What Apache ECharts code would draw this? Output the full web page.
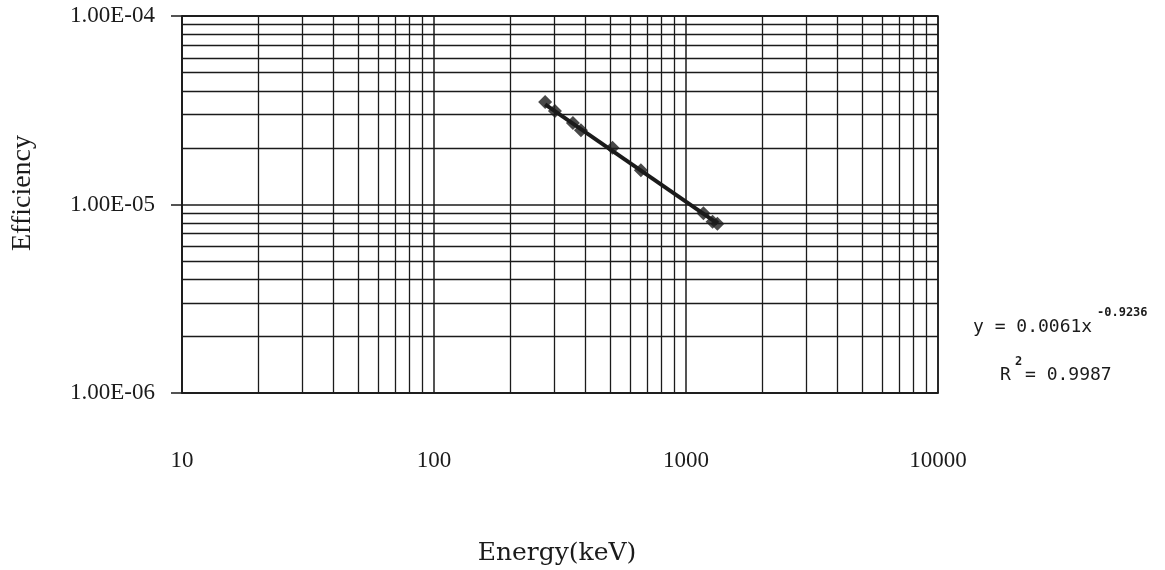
<!DOCTYPE html>
<html>
<head>
<meta charset="utf-8">
<title>Efficiency vs Energy</title>
<script src="https://cdn.jsdelivr.net/npm/echarts@6/dist/echarts.min.js"></script>
<style>
  html, body { margin: 0; padding: 0; background: #ffffff; }
  #chart { width: 1165px; height: 570px; }
</style>
</head>
<body>
<div id="chart"></div>
<script>
// Measured detector efficiency at each gamma line (keV)
const energy = [276, 302, 356, 383, 511, 662, 1173, 1275, 1332];
const efficiency = [3.50e-5, 3.13e-5, 2.71e-5, 2.48e-5, 2.00e-5, 1.52e-5, 9.0e-6, 8.1e-6, 7.9e-6];

// Power-law fit y = a * x^b, as printed beside the chart
const fitA = 0.0061;
const fitB = -0.9236;
const fitR2 = '0.9987';

// Axis ranges and tick labels
const xRange = [10, 10000];
const yRange = [1e-6, 1e-4];
const xTickLabels = ['10', '100', '1000', '10000'];
const yTickLabels = ['1.00E-06', '1.00E-05', '1.00E-04'];

// Minor grid lines at 2..9 of every decade
const minorSteps = [2, 3, 4, 5, 6, 7, 8, 9];
const xDecades = [10, 100, 1000];
const yDecades = [1e-6, 1e-5];

const minorGrid = [];
xDecades.forEach(d => minorSteps.forEach(m => {
  minorGrid.push([{ coord: [d * m, yRange[0]] }, { coord: [d * m, yRange[1]] }]);
}));
yDecades.forEach(d => minorSteps.forEach(m => {
  minorGrid.push([{ coord: [xRange[0], d * m] }, { coord: [xRange[1], d * m] }]);
}));

// Fit line spans the measured energy range
const eMin = Math.min(...energy);
const eMax = Math.max(...energy);
const fitLine = [eMin, eMax].map(e => [e, fitA * Math.pow(e, fitB)]);

const ink = '#1b1b1b';
const serif = '"Liberation Serif", "DejaVu Serif", serif';
const wideSerif = '"DejaVu Serif", "Liberation Serif", serif';
const mono = '"DejaVu Sans Mono", "Liberation Mono", monospace';

function logIndex(v) {
  return Math.round(Math.log10(v));
}

const chart = echarts.init(document.getElementById('chart'), null, { renderer: 'canvas' });

chart.setOption({
  backgroundColor: '#ffffff',
  animation: false,
  grid: {
    left: 182, right: 227, top: 16, bottom: 177,
    show: true, borderColor: ink, borderWidth: 1.5, backgroundColor: 'transparent'
  },
  xAxis: {
    type: 'log',
    logBase: 10,
    min: xRange[0],
    max: xRange[1],
    axisLine: { show: true, lineStyle: { color: ink, width: 1.5 } },
    axisTick: { show: false },
    splitLine: { show: true, lineStyle: { color: ink, width: 1.5 } },
    axisLabel: {
      margin: 56,
      color: ink,
      fontFamily: serif,
      fontSize: 23,
      formatter: v => xTickLabels[logIndex(v) - 1] || ''
    }
  },
  yAxis: {
    type: 'log',
    logBase: 10,
    min: yRange[0],
    max: yRange[1],
    axisLine: { show: true, lineStyle: { color: ink, width: 1.5 } },
    axisTick: { show: true, inside: false, length: 11, lineStyle: { color: ink, width: 1.5 } },
    splitLine: { show: true, lineStyle: { color: ink, width: 1.5 } },
    axisLabel: {
      margin: 27,
      color: ink,
      fontFamily: serif,
      fontSize: 23,
      formatter: v => yTickLabels[logIndex(v) + 6] || ''
    }
  },
  series: [
    {
      name: 'grid',
      type: 'line',
      data: [],
      silent: true,
      markLine: {
        silent: true,
        symbol: ['none', 'none'],
        animation: false,
        label: { show: false },
        lineStyle: { color: ink, width: 1.3, type: 'solid' },
        emphasis: { disabled: true },
        data: minorGrid
      }
    },
    {
      name: 'Efficiency',
      type: 'scatter',
      data: energy.map((e, i) => [e, efficiency[i]]),
      symbol: 'diamond',
      symbolSize: 14,
      itemStyle: { color: ink },
      z: 3
    },
    {
      name: 'Power fit',
      type: 'line',
      data: fitLine,
      showSymbol: false,
      lineStyle: { color: ink, width: 4 },
      z: 4
    }
  ],
  graphic: [
    {
      type: 'text', x: 557, y: 553,
      style: { text: 'Energy(keV)', fill: ink, font: '25px ' + wideSerif, textAlign: 'center', textVerticalAlign: 'middle' }
    },
    {
      type: 'text', x: 23, y: 193, rotation: Math.PI / 2,
      style: { text: 'Efficiency', fill: ink, font: '28px ' + serif, textAlign: 'center', textVerticalAlign: 'middle' }
    },
    {
      type: 'text', x: 973, y: 327,
      style: { text: 'y = ' + fitA.toFixed(4) + 'x', fill: ink, font: '18px ' + mono, textAlign: 'left', textVerticalAlign: 'middle' }
    },
    {
      type: 'text', x: 1097, y: 313,
      style: { text: fitB.toFixed(4), fill: ink, font: 'bold 12px ' + mono, textAlign: 'left', textVerticalAlign: 'middle' }
    },
    {
      type: 'text', x: 1000, y: 375,
      style: { text: 'R', fill: ink, font: '18px ' + mono, textAlign: 'left', textVerticalAlign: 'middle' }
    },
    {
      type: 'text', x: 1015, y: 362,
      style: { text: '2', fill: ink, font: 'bold 12px ' + mono, textAlign: 'left', textVerticalAlign: 'middle' }
    },
    {
      type: 'text', x: 1025, y: 375,
      style: { text: '= ' + fitR2, fill: ink, font: '18px ' + mono, textAlign: 'left', textVerticalAlign: 'middle' }
    }
  ]
});
</script>
</body>
</html>
